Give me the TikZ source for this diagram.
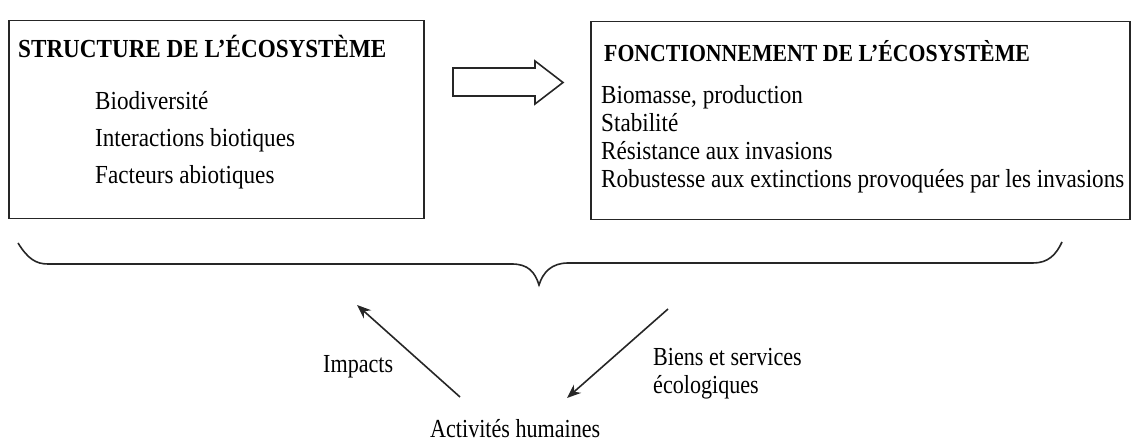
\documentclass[tikz,border=0pt]{standalone}
\usepackage{fontspec}
\setmainfont[FakeStretch=0.89]{Liberation Serif}
\newfontfamily\lowfont[FakeStretch=0.85]{Liberation Serif}
\usetikzlibrary{arrows.meta}
\begin{document}
\begin{tikzpicture}[x=1pt,y=-1pt,
  txt/.style={anchor=base west, inner sep=0pt, font=\fontsize{26}{30}\selectfont},
  low/.style={anchor=base west, inner sep=0pt, font=\lowfont\fontsize{26}{30}\selectfont},
  ttl/.style={anchor=base west, inner sep=0pt, font=\fontsize{26}{30}\selectfont\bfseries},
  box/.style={draw=black!85, line width=1.5pt, anchor=north west, inner sep=0pt},
  ln/.style={line width=1.6pt, draw=black!85},
  tip/.style={ln, -{Stealth[length=14pt,width=11pt]}}]
\useasboundingbox (0,0) rectangle (1135,443);
% boxes
\node[box, minimum width=415pt, minimum height=198pt] (structure) at (8,20) {};
\node[box, minimum width=539pt, minimum height=198pt] (fonction) at (590,21) {};
% left box text
\node[ttl] (t1) at (18,58) {STRUCTURE DE L’ÉCOSYSTÈME};
\node[txt] (s1) at (95,110) {Biodiversité};
\node[txt] (s2) at (95,147) {Interactions biotiques};
\node[txt] (s3) at (95,184) {Facteurs abiotiques};
% right box text
\node[ttl, font=\fontsize{24.5}{28}\selectfont\bfseries] (t2) at (604,62) {FONCTIONNEMENT DE L’ÉCOSYSTÈME};
\node[txt] (f1) at (601,104) {Biomasse, production};
\node[txt] (f2) at (601,132) {Stabilité};
\node[txt] (f3) at (601,160) {Résistance aux invasions};
\node[txt] (f4) at (601,188) {Robustesse aux extinctions provoquées par les invasions};
% block arrow
\draw[ln, line join=miter] (453,68) -- (535,68) -- (535,61) -- (563,82.5) -- (535,104) -- (535,96) -- (453,96) -- cycle;
% brace
\coordinate (bracetip) at (539,285);
\draw[ln] (18,243) .. controls (28,259) and (36,264) .. (48,264) -- (512,264)
  .. controls (528,264) and (535,272) .. (bracetip)
  .. controls (543,272) and (552,263) .. (568,263) -- (1033,263)
  .. controls (1048,263) and (1056,255) .. (1062,242);
% lower part
\node[low] (impacts) at (323,373) {Impacts};
\node[low] (biens) at (653,366) {Biens et services};
\node[low] (eco) at (653,394) {écologiques};
\node[low] (act) at (430,437) {Activités humaines};
\coordinate (impTail) at (460,397);
\coordinate (impHead) at (357,305);
\coordinate (bsTail) at (668,309);
\coordinate (bsHead) at (567,398);
\draw[tip] (impTail) -- (impHead);
\draw[tip] (bsTail) -- (bsHead);
\end{tikzpicture}
\end{document}
